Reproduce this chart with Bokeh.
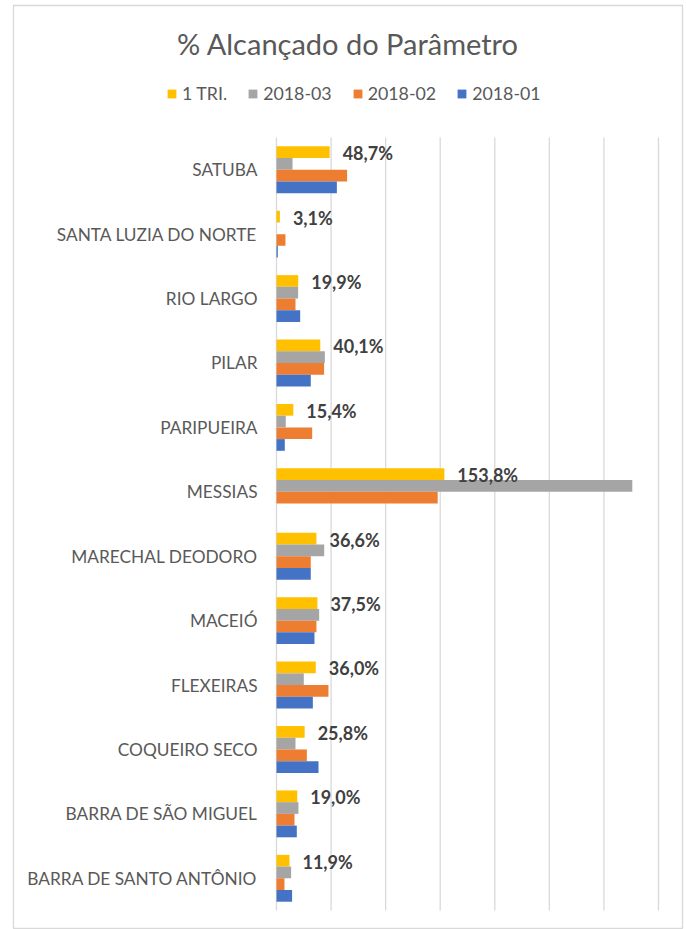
from bokeh.plotting import figure
from bokeh.models import (ColumnDataSource, Range1d, Label, Legend, LegendItem)
from bokeh.transform import dodge
from bokeh.core.properties import value
from bokeh.embed import file_html
from bokeh.resources import INLINE

# ---- data (top to bottom as in the chart) ----
categories = ["SATUBA", "SANTA LUZIA DO NORTE", "RIO LARGO", "PILAR", "PARIPUEIRA",
              "MESSIAS", "MARECHAL DEODORO", "MACEIÓ", "FLEXEIRAS", "COQUEIRO SECO",
              "BARRA DE SÃO MIGUEL", "BARRA DE SANTO ANTÔNIO"]
tri_1 = [48.7, 3.1, 19.9, 40.1, 15.4, 153.8, 36.6, 37.5, 36.0, 25.8, 19.0, 11.9]
s2018_03 = [14.7, 0.0, 19.8, 44.3, 8.5, 326.0, 43.7, 39.1, 25.0, 17.4, 20.1, 13.4]
s2018_02 = [64.7, 8.2, 17.4, 43.6, 32.7, 147.7, 31.4, 36.6, 47.6, 27.8, 16.5, 7.3]
s2018_01 = [55.3, 1.2, 21.7, 31.4, 7.6, 0.0, 31.4, 34.8, 33.3, 38.5, 18.6, 14.3]
series_names = ["1 TRI.", "2018-03", "2018-02", "2018-01"]
x_ticks = [0, 50, 100, 150, 200, 250, 300, 350]
title_text = "% Alcançado do Parâmetro"

colors = ["#FFC000", "#A5A5A5", "#ED7D31", "#4472C4"]
labels = [f"{v:.1f}".replace(".", ",") + "%" for v in tri_1]
pos = list(range(len(categories)))  # 0 = top row

src = ColumnDataSource(dict(cat=categories, pos=pos, tri=tri_1, s3=s2018_03,
                            s2=s2018_02, s1=s2018_01, lab=labels,
                            zero=[0] * len(categories)))

FONT = "Lato"
GRAY_TXT = "#595959"
W, H = 686, 929

# page geometry (pixels)
BOX_L, BOX_R, BOX_T = 13, 682, 5          # chart box (frame)
PL_L, PL_R, PL_T, PL_B = 276, 658, 137, 910  # plot area
px_x = (PL_R - PL_L) / x_ticks[-1]
px_y = (PL_B - PL_T) / len(categories)

x_range = Range1d(-(PL_L - BOX_L) / px_x, x_ticks[-1] + (BOX_R - PL_R) / px_x)
y_range = Range1d(len(categories) - 0.5 + (H - PL_B) / px_y,
                  -0.5 - (PL_T - BOX_T) / px_y)

p = figure(width=W, height=H, output_backend="svg", toolbar_location=None,
           x_range=x_range, y_range=y_range, x_axis_location=None, y_axis_location=None,
           min_border_left=BOX_L, min_border_right=W - BOX_R, min_border_top=BOX_T,
           min_border_bottom=0)
p.grid.visible = False
p.outline_line_color = "#D9D9D9"
p.outline_line_width = 1.3
p.background_fill_color = "white"
p.border_fill_color = "white"

# vertical gridlines over the plot area
n = len(categories)
p.segment(x0=x_ticks, x1=x_ticks, y0=[-0.5] * len(x_ticks), y1=[n - 0.5] * len(x_ticks),
          line_color="#D9D9D9", line_width=1.3)

bw = 1 / 5.5
offsets = [-1.5 * bw, -0.5 * bw, 0.5 * bw, 1.5 * bw]
fields = ["tri", "s3", "s2", "s1"]
renderers = []
for f, off, c in zip(fields, offsets, colors):
    r = p.hbar(y=dodge("pos", off), right=f, left=0, height=bw,
               source=src, fill_color=c, line_color=None)
    renderers.append(r)

# data labels of the 1 TRI. series
p.text(x="tri", y=dodge("pos", offsets[0]), text="lab", source=src,
       x_offset=13, y_offset=1, text_font=value(FONT), text_font_style="bold",
       text_font_size="18px", text_color="#404040", text_baseline="middle",
       text_align="left")

# category labels
p.text(x="zero", y="pos", text="cat", source=src, x_offset=-19,
       text_font=value(FONT), text_font_size="17.3px", text_color=GRAY_TXT,
       text_baseline="middle", text_align="right")

# title (screen units relative to the chart box, y up from bottom)
p.add_layout(Label(x=(BOX_R - BOX_L) / 2, y=H - 43, x_units="screen", y_units="screen",
                   text=title_text, text_align="center", text_baseline="alphabetic",
                   text_font=FONT, text_font_size="29px", text_color=GRAY_TXT))

legend = Legend(items=[LegendItem(label=nm, renderers=[r])
                       for nm, r in zip(series_names, renderers)],
                orientation="horizontal", location=(166 - BOX_L, H - 104),
                glyph_width=11, glyph_height=11, label_standoff=5, spacing=20,
                padding=0, margin=0, border_line_color=None, background_fill_alpha=0,
                label_text_font=FONT, label_text_font_size="17.8px",
                label_text_color=GRAY_TXT)
p.add_layout(legend, "center")

open("out.html", "w").write(file_html(p, INLINE))
